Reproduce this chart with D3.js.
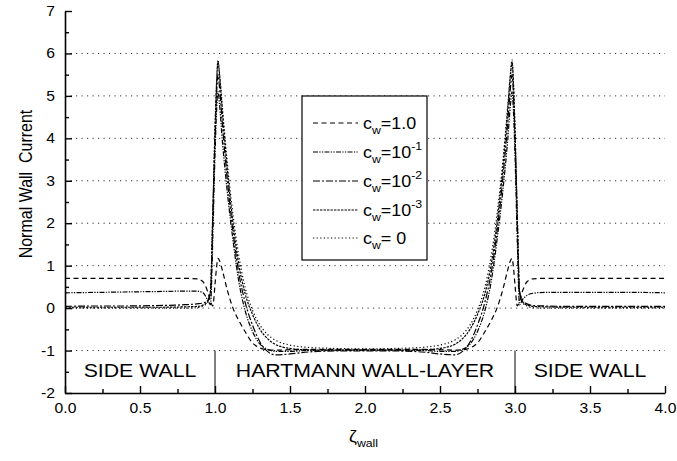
<!DOCTYPE html>
<html>
<head>
<meta charset="utf-8">
<script src="https://cdn.jsdelivr.net/npm/d3@7"></script>
<style>
  html, body { margin: 0; padding: 0; background: #fff; }
  svg { display: block; font-family: "Liberation Sans", Arial, sans-serif; }
  text { white-space: pre; }
</style>
</head>
<body>
<svg id="chart" width="677" height="461"></svg>
<script>
// Position along the wall (zeta_wall)
const zeta = [0, 0.2, 0.4, 0.6, 0.8, 0.88, 0.92, 0.95, 0.97, 0.985,
  1.0, 1.01, 1.02, 1.03, 1.05, 1.08, 1.12, 1.16, 1.2, 1.25,
  1.3, 1.35, 1.4, 1.5, 1.6, 1.8, 2.0, 2.2, 2.4, 2.5,
  2.6, 2.65, 2.7, 2.75, 2.8, 2.84, 2.88, 2.92, 2.95, 2.97,
  2.98, 2.99, 3.0, 3.015, 3.03, 3.05, 3.08, 3.12, 3.2, 3.4,
  3.6, 3.8, 4.0];

// Normal wall current for each wall conductance ratio c_w
const cw1 = [0.70, 0.70, 0.70, 0.70, 0.70, 0.69, 0.62, 0.40, 0.16, 0.05,
  0.55, 0.95, 1.17, 1.12, 0.88, 0.45, 0.0, -0.30, -0.55, -0.82,
  -0.94, -0.98, -0.99, -0.98, -0.97, -0.97, -0.97, -0.97, -0.97, -0.98,
  -0.99, -0.98, -0.94, -0.82, -0.55, -0.30, 0.0, 0.45, 0.88, 1.12,
  1.17, 0.95, 0.55, 0.05, 0.16, 0.40, 0.62, 0.69, 0.70, 0.70,
  0.70, 0.70, 0.70];
const cw1e1 = [0.36, 0.37, 0.38, 0.39, 0.40, 0.40, 0.36, 0.20, 0.08, 1.6,
  3.6, 4.6, 5.1, 4.8, 3.9, 2.8, 1.6, 0.6, -0.05, -0.55,
  -0.85, -0.97, -1.02, -1.02, -1.0, -0.99, -0.99, -0.99, -1.0, -1.02,
  -1.02, -0.97, -0.85, -0.55, -0.05, 0.6, 1.6, 2.8, 3.9, 4.8,
  5.1, 4.6, 3.6, 1.6, 0.08, 0.20, 0.30, 0.35, 0.37, 0.37,
  0.37, 0.37, 0.36];
const cw1e2 = [0.04, 0.05, 0.05, 0.06, 0.08, 0.10, 0.12, 0.17, 0.40, 2.1,
  4.0, 5.0, 5.5, 5.2, 4.3, 3.1, 1.8, 0.8, 0.15, -0.40,
  -0.80, -1.02, -1.10, -1.08, -1.04, -1.01, -1.01, -1.01, -1.04, -1.08,
  -1.10, -1.02, -0.80, -0.40, 0.15, 0.8, 1.8, 3.1, 4.3, 5.2,
  5.5, 5.0, 4.0, 2.1, 0.40, 0.17, 0.10, 0.06, 0.05, 0.04,
  0.04, 0.04, 0.04];
const cw1e3 = [0.02, 0.02, 0.02, 0.02, 0.03, 0.04, 0.07, 0.15, 0.40, 2.2,
  4.2, 5.25, 5.8, 5.5, 4.6, 3.35, 2.0, 1.0, 0.35, -0.15,
  -0.50, -0.72, -0.85, -0.95, -0.98, -0.99, -0.99, -0.99, -0.98, -0.95,
  -0.85, -0.72, -0.50, -0.15, 0.35, 1.0, 2.0, 3.35, 4.6, 5.5,
  5.8, 5.25, 4.2, 2.2, 0.40, 0.15, 0.07, 0.04, 0.03, 0.02,
  0.02, 0.02, 0.02];
const cw0 = [0, 0, 0, 0, 0, 0.01, 0.05, 0.13, 0.40, 2.2,
  4.2, 5.3, 5.85, 5.55, 4.7, 3.5, 2.2, 1.2, 0.5, -0.05,
  -0.40, -0.62, -0.75, -0.87, -0.92, -0.95, -0.96, -0.95, -0.92, -0.87,
  -0.75, -0.62, -0.40, -0.05, 0.5, 1.2, 2.2, 3.5, 4.7, 5.55,
  5.85, 5.3, 4.2, 2.2, 0.40, 0.13, 0.05, 0.01, 0, 0,
  0, 0, 0];

const seriesLabels = ["1.0", "10", "10", "10", " 0"];
const seriesExponents = ["", "-1", "-2", "-3", ""];

const xTicks = [0, 0.5, 1.0, 1.5, 2.0, 2.5, 3.0, 3.5, 4.0];
const yTicks = [-2, -1, 0, 1, 2, 3, 4, 5, 6, 7];
const gridValues = [-1, 0, 1, 2, 3, 4, 5, 6];

const regionNames = ["SIDE WALL", "HARTMANN WALL-LAYER", "SIDE WALL"];
const regionCenters = [0.5, 2.0, 3.5];
const regionBounds = [1.0, 3.0];

// Text in this figure is slightly wider than plain Arial
const SX = 1.12;

const svg = d3.select("#chart");
const x = d3.scaleLinear().domain([0, 4]).range([65, 665]);
const y = d3.scaleLinear().domain([-2, 7]).range([393, 11]);

// dotted horizontal grid
svg.append("g").selectAll("line").data(gridValues).join("line")
  .attr("x1", x(0)).attr("x2", x(4))
  .attr("y1", d => y(d)).attr("y2", d => y(d))
  .attr("stroke", "#333").attr("stroke-width", 1)
  .attr("stroke-dasharray", "1.2 4.3");

// region dividers between side wall and Hartmann wall
svg.append("g").selectAll("line").data(regionBounds).join("line")
  .attr("x1", d => x(d)).attr("x2", d => x(d))
  .attr("y1", y(-1)).attr("y2", y(-2))
  .attr("stroke", "#000").attr("stroke-width", 1);

svg.append("g").selectAll("text").data(regionNames).join("text")
  .attr("transform", (d, i) => `translate(${x(regionCenters[i])},377) scale(${SX},1)`)
  .attr("text-anchor", "middle")
  .attr("font-size", 19)
  .text(d => d);

// curves
const series = [
  { v: cw1, dash: "5 3.5" },
  { v: cw1e1, dash: "5 1.3 1.3 1.3 1.3 1.3" },
  { v: cw1e2, dash: "7 2 2 2" },
  { v: cw1e3, dash: "2.4 1.1" },
  { v: cw0, dash: "1.2 2.4" }
];
const line = d3.line()
  .x(d => x(d[0])).y(d => y(d[1]))
  .curve(d3.curveMonotoneX);

svg.append("g").selectAll("path").data(series).join("path")
  .attr("d", s => line(zeta.map((z, i) => [z, s.v[i]])))
  .attr("fill", "none")
  .attr("stroke", "#000")
  .attr("stroke-width", 1.2)
  .attr("stroke-dasharray", s => s.dash);

// axes with inward ticks
const yAxis = svg.append("g").attr("transform", `translate(${x(0)},0)`)
  .call(d3.axisLeft(y).tickValues(yTicks).tickSize(-7).tickSizeOuter(0).tickPadding(9)
    .tickFormat(d => String(d)));
svg.append("g").attr("transform", `translate(${x(0)},0)`)
  .call(d3.axisLeft(y).tickValues(d3.range(-1.5, 7, 1)).tickSize(-4).tickFormat(""))
  .call(g => g.select(".domain").remove());

const xAxis = svg.append("g").attr("transform", `translate(0,${y(-2)})`)
  .call(d3.axisBottom(x).tickValues(xTicks).tickSize(-7).tickSizeOuter(0).tickPadding(10)
    .tickFormat(d => d.toFixed(1)));
svg.append("g").attr("transform", `translate(0,${y(-2)})`)
  .call(d3.axisBottom(x).tickValues(d3.range(0.25, 4, 0.5)).tickSize(-4).tickFormat(""))
  .call(g => g.select(".domain").remove());

svg.selectAll(".domain").attr("stroke", "#000").attr("stroke-width", 1.6);
svg.selectAll(".tick line").attr("stroke", "#000").attr("stroke-width", 1.4);
svg.selectAll(".tick text")
  .attr("font-family", "Liberation Sans, Arial, sans-serif")
  .attr("font-size", 14).attr("fill", "#000");
yAxis.selectAll(".tick text").attr("transform", `scale(${SX},1)`).attr("x", -10 / SX);
xAxis.selectAll(".tick text").attr("transform", `scale(${SX},1)`);

// axis titles
svg.append("text")
  .attr("transform", `translate(32,184) scale(${SX},1) rotate(-90)`)
  .attr("text-anchor", "middle")
  .attr("font-size", 16)
  .text("Normal Wall  Current");

const xt = svg.append("text")
  .attr("transform", `translate(349,442) scale(${SX},1)`)
  .attr("font-size", 16);
xt.append("tspan").text("ζ");
xt.append("tspan").attr("font-size", 11).attr("dy", 5).text("wall");

// legend
const lg = svg.append("g");
lg.append("rect")
  .attr("x", 302).attr("y", 96).attr("width", 125).attr("height", 164)
  .attr("fill", "#fff").attr("stroke", "#000").attr("stroke-width", 1.2);
const rowY = [123, 152, 181, 210, 238];
series.forEach((s, i) => {
  lg.append("line")
    .attr("x1", 313).attr("x2", 358)
    .attr("y1", rowY[i]).attr("y2", rowY[i])
    .attr("stroke", "#000").attr("stroke-width", 1.2)
    .attr("stroke-dasharray", s.dash);
  const t = lg.append("text")
    .attr("transform", `translate(363,${rowY[i] + 6}) scale(${SX},1)`)
    .attr("font-size", 16);
  t.append("tspan").text("c");
  t.append("tspan").attr("font-size", 11).attr("dy", 5).text("w");
  t.append("tspan").attr("dy", -5).text("=" + seriesLabels[i]);
  if (seriesExponents[i]) {
    t.append("tspan").attr("font-size", 11).attr("dy", -8).text(seriesExponents[i]);
  }
});
</script>
</body>
</html>
